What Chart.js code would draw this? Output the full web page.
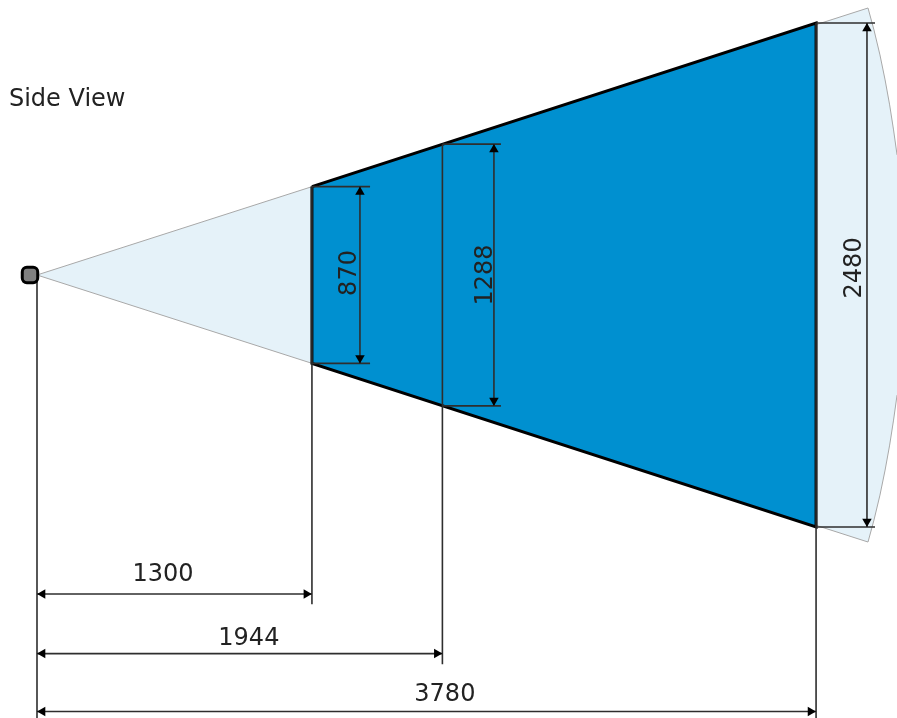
<!DOCTYPE html>
<html lang="en">
<head>
    <meta charset="UTF-8">
    <title>Side View</title>
    <script src="https://cdn.jsdelivr.net/npm/chart.js"></script>
    <style>
        html, body { margin: 0; padding: 0; background: #fff; }
        canvas { display: block; }
    </style>
</head>
<body>

<canvas id="sideView" width="897" height="718"></canvas>

<script>
    // distance from the sensor and full height of each plane
    const planeDistance = [1334, 1967, 3780];
    const planeHeight = [870, 1288, 2480];
    const distanceLabels = ['1300', '1944', '3780'];
    const heightLabels = ['870', '1288', '2480'];

    // where the dimension lines sit
    const distanceDimY = [-1570, -1863, -2148];
    const extensionEndY = [-1620, -1915, -2180];
    const heightDimX = [1567, 2217, 4027];
    const heightTickEnd = [1616, 2251, 4066];

    // outer edge of the field of view, upper half
    const arcX = [4032, 4061, 4090, 4115, 4137, 4156, 4173];
    const arcY = [1314, 1206, 1083, 960, 837, 714, 591];

    const sensorX = -34;
    const viewTitle = 'Side View';

    const lightBlue = '#e5f2f9';
    const blue = '#0090d0';
    const lineGray = '#2e2e2e';

    const line = (points, color, width) => ({
        data: points,
        showLine: true,
        fill: false,
        borderColor: color,
        borderWidth: width,
        pointRadius: 0,
        tension: 0
    });

    const arrows = (points, angles) => ({
        data: points,
        showLine: false,
        pointStyle: 'triangle',
        pointRadius: 5.5,
        pointRotation: angles,
        pointBackgroundColor: '#000',
        pointBorderWidth: 0
    });

    const filled = (points, color) => ({
        data: points,
        showLine: true,
        fill: '+1',
        backgroundColor: color,
        borderWidth: 0,
        pointRadius: 0,
        tension: 0
    });

    const coneUpper = [{x: 0, y: 0}, ...arcX.map((x, i) => ({x: x, y: arcY[i]}))];
    const coneLower = coneUpper.map(p => ({x: p.x, y: -p.y}));
    const near = planeDistance[0], far = planeDistance[2];
    const nearHalf = planeHeight[0] / 2, farHalf = planeHeight[2] / 2;
    const arrowInset = 27;

    // first in this list ends up on top, chart.js paints from the end
    const datasets = [];
    planeDistance.forEach((d, i) => {
        const h = planeHeight[i] / 2;
        const dimX = heightDimX[i], dimY = distanceDimY[i];
        datasets.push(arrows([{x: dimX, y: h - arrowInset}, {x: dimX, y: -h + arrowInset}], [0, 180]));
        datasets.push(arrows([{x: arrowInset, y: dimY}, {x: d - arrowInset, y: dimY}], [-90, 90]));
        datasets.push(line([{x: dimX, y: h}, {x: dimX, y: -h}], lineGray, 1.6));
        datasets.push(line([{x: d, y: h}, {x: heightTickEnd[i], y: h}], lineGray, 1.6));
        datasets.push(line([{x: d, y: -h}, {x: heightTickEnd[i], y: -h}], lineGray, 1.6));
        datasets.push(line([{x: 0, y: dimY}, {x: d, y: dimY}], lineGray, 1.6));
        datasets.push(line([{x: d, y: h}, {x: d, y: extensionEndY[i]}], lineGray, 1.6));
    });
    datasets.push({
        data: [{x: sensorX, y: 0}],
        showLine: false,
        pointStyle: 'rectRounded',
        pointRadius: 9,
        pointBackgroundColor: '#808080',
        pointBorderColor: '#000',
        pointBorderWidth: 3
    });
    datasets.push(line([{x: 0, y: 0}, {x: 0, y: extensionEndY[2]}], lineGray, 1.6));
    datasets.push(line([
        {x: near, y: nearHalf}, {x: far, y: farHalf}, {x: far, y: -farHalf},
        {x: near, y: -nearHalf}, {x: near, y: nearHalf}
    ], '#000', 3));
    datasets.push(filled([{x: near, y: nearHalf}, {x: far, y: farHalf}], blue));
    datasets.push(filled([{x: near, y: -nearHalf}, {x: far, y: -farHalf}], 'transparent'));
    datasets.push(line(coneUpper, '#a8a8a8', 1));
    datasets.push(line(coneLower, '#a8a8a8', 1));
    datasets.push(filled(coneUpper, lightBlue));
    datasets.push(filled(coneLower, 'transparent'));

    // dimension numbers and the title are plain canvas text, placed through the scales
    const dimensionText = {
        id: 'dimensionText',
        afterDatasetsDraw(chart) {
            const {ctx, scales: {x, y}} = chart;
            ctx.save();
            ctx.fillStyle = '#222';
            ctx.font = '24px "DejaVu Sans"';
            ctx.textAlign = 'center';
            ctx.textBaseline = 'middle';
            const labelX = [611, 1028, 1979];
            const labelY = [-1477, -1792, -2067];
            distanceLabels.forEach((t, i) => ctx.fillText(t, x.getPixelForValue(labelX[i]), y.getPixelForValue(labelY[i])));
            const sideX = [1519, 2179, 3969];
            const sideY = [10, 0, 35];
            heightLabels.forEach((t, i) => {
                ctx.save();
                ctx.translate(x.getPixelForValue(sideX[i]), y.getPixelForValue(sideY[i]));
                ctx.rotate(-Math.PI / 2);
                ctx.fillText(t, 0, 0);
                ctx.restore();
            });
            ctx.textAlign = 'left';
            ctx.fillText(viewTitle, x.getPixelForValue(-136), y.getPixelForValue(860));
            ctx.restore();
        }
    };

    new Chart(document.getElementById('sideView').getContext('2d'), {
        type: 'scatter',
        data: {datasets: datasets},
        options: {
            responsive: false,
            animation: false,
            devicePixelRatio: 1,
            layout: {padding: 0, autoPadding: false},
            plugins: {legend: {display: false}, tooltip: {enabled: false}},
            scales: {
                x: {type: 'linear', display: false, min: -179.5, max: 4172.7},
                y: {type: 'linear', display: false, min: -2180, max: 1353.3}
            }
        },
        plugins: [dimensionText]
    });
</script>

</body>
</html>
